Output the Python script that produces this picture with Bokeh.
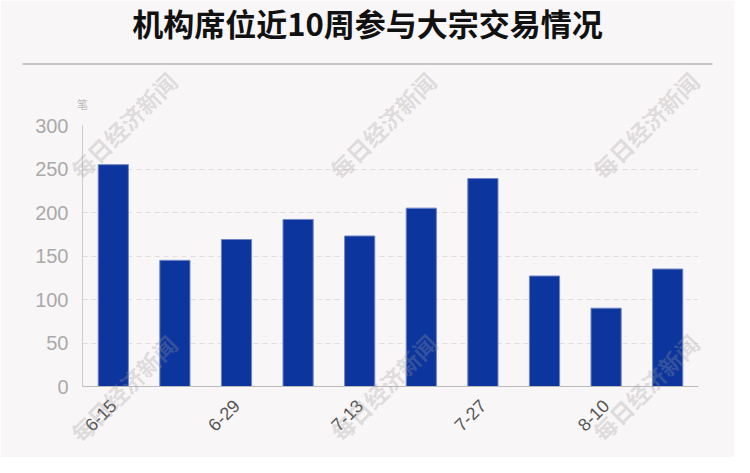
from bokeh.plotting import figure
from bokeh.models import FixedTicker, Range1d
from bokeh.core.properties import value
from bokeh.embed import file_html
from bokeh.resources import INLINE
import math

weeks = ["6-15", "6-22", "6-29", "7-6", "7-13", "7-20", "7-27", "8-3", "8-10", "8-17"]
shown_labels = ["6-15", "6-29", "7-13", "7-27", "8-10"]
counts = [255, 145, 169, 192, 173, 205, 239, 127, 90, 135]
y_ticks = [0, 50, 100, 150, 200, 250, 300]
title_text = "机构席位近10周参与大宗交易情况"
unit_text = "笔"
watermark = "每日经济新闻"

W, H = 734, 457
FL, FR, FT, FB = 82, 698, 125, 386  # frame edges in canvas px (y down)
BG = "#f9f6f7"
YMAX = 300

xs = list(range(len(weeks)))

p = figure(width=W, height=H, x_range=Range1d(-0.5, len(weeks) - 0.5), y_range=Range1d(0, YMAX),
           output_backend="svg", toolbar_location=None, title=None,
           min_border_left=FL, min_border_right=W - FR, min_border_top=FT,
           min_border_bottom=H - FB)
p.background_fill_color = BG
p.border_fill_color = BG
p.outline_line_color = None

p.vbar(x=xs, top=counts, width=0.49, fill_color="#0c359e",
       line_color="#6f86c6", line_width=1)

p.yaxis.ticker = FixedTicker(ticks=y_ticks)
p.yaxis.major_label_text_font = "Liberation Sans"
p.yaxis.major_label_text_font_size = "20px"
p.yaxis.major_label_text_color = "#aaaaaa"
p.yaxis.axis_line_color = "#cccccc"
p.yaxis.major_tick_line_color = None
p.yaxis.minor_tick_line_color = None
p.yaxis.major_label_standoff = 8

p.xaxis.ticker = FixedTicker(ticks=[i for i, w in enumerate(weeks) if w in shown_labels])
p.xaxis.major_label_overrides = {i: w for i, w in enumerate(weeks) if w in shown_labels}
p.xaxis.axis_line_color = "#bbbbbb"
p.xaxis.major_tick_line_color = None
p.xaxis.minor_tick_line_color = None
p.xaxis.major_label_text_font = "Liberation Sans"
p.xaxis.major_label_text_font_size = "18px"
p.xaxis.major_label_text_color = "#555555"
p.xaxis.major_label_orientation = math.pi / 4
p.xaxis.major_label_standoff = 10

p.xgrid.grid_line_color = None
p.ygrid.grid_line_color = "#e2dddd"
p.ygrid.grid_line_dash = "5 4"
p.ygrid.grid_line_width = 1

# conversion from canvas pixels to data coordinates (for decorations outside the frame)
px_x = (FR - FL) / len(weeks)
px_y = (FB - FT) / YMAX


def dx(X):
    return (X - FL) / px_x - 0.5


def dy(Y):
    return (FB - Y) / px_y


# title
p.text(x=[dx(367)], y=[dy(22)], text=[title_text], text_font=value("Noto Sans CJK SC"),
       text_font_style="bold", text_font_size="31px", text_color="#111111",
       text_align="center", text_baseline="middle", level="overlay")
# rule under title
p.segment(x0=[dx(22)], y0=[dy(63.5)], x1=[dx(712)], y1=[dy(63.5)],
          line_color="#c6c6c6", line_width=2, level="overlay")
# unit
p.text(x=[dx(82)], y=[dy(103)], text=[unit_text], text_font=value("Noto Sans CJK SC"),
       text_font_size="11px", text_color="#bbbbbb", text_align="center",
       text_baseline="middle", level="overlay")

# watermarks
wx = [123, 382, 645, 123, 383, 645]
wy = [125, 125, 125, 388, 387, 387]
p.text(x=[dx(v) for v in wx], y=[dy(v) for v in wy], text=[watermark] * len(wx),
       text_font=value("Noto Sans CJK SC"), text_font_style="bold",
       text_font_size="23px", text_color="#9a9a9a", text_alpha=0.3,
       angle=math.pi / 4, text_align="center", text_baseline="middle", level="overlay")

open("out.html", "w").write(file_html(p, INLINE))
